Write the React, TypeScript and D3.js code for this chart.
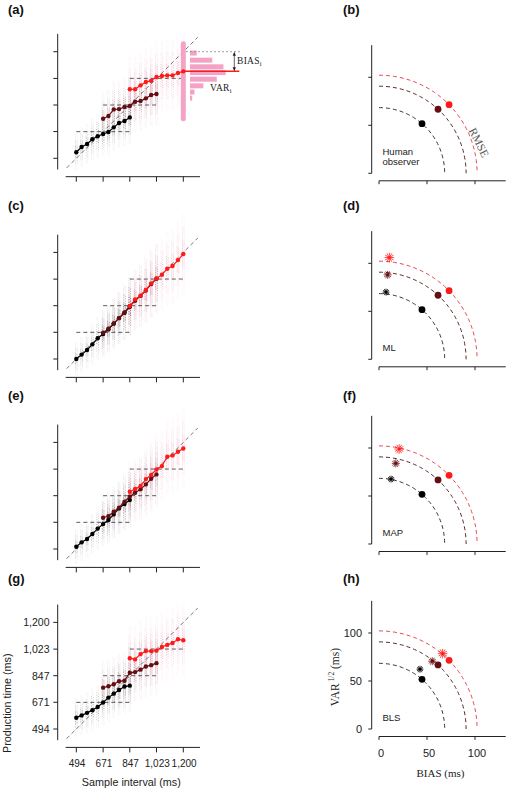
import React from "react";
import * as d3 from "d3";

// ---------- data ----------
const TS_SHORT = [494, 529, 565, 600, 635, 671, 706, 741, 776, 812, 847];
const TS_INTER = [671, 706, 741, 776, 812, 847, 882, 918, 953, 988, 1023];
const TS_LONG = [847, 882, 918, 953, 988, 1023, 1059, 1094, 1129, 1165, 1200];
const MS_TICKS = [494, 671, 847, 1023, 1200];
const PRIOR_RANGES = [[494, 847], [671, 1023], [847, 1200]];

const A_SHORT = [534, 569, 589, 620, 640, 655, 668, 699, 728, 741, 765];
const A_INTER = [756, 774, 818, 820, 834, 840, 869, 873, 891, 913, 920];
const A_LONG = [951, 951, 977, 999, 1008, 1032, 1039, 1043, 1043, 1059, 1070];

const ML_SHORT = [494, 523, 554, 591, 631, 659, 690, 728, 765, 800, 840];
const ML_INTER = [668, 695, 730, 765, 802, 843, 880, 912, 948, 990, 1025];
const ML_LONG = [845, 889, 913, 951, 995, 1028, 1052, 1092, 1110, 1149, 1189];

const MAP_SHORT = [509, 538, 560, 593, 629, 659, 686, 723, 763, 792, 818];
const MAP_INTER = [701, 712, 741, 768, 807, 840, 867, 889, 922, 959, 988];
const MAP_LONG = [873, 891, 911, 957, 984, 1021, 1043, 1105, 1114, 1138, 1160];

const G_SHORT = [569, 584, 601, 619, 640, 670, 702, 728, 752, 775, 781];
const G_INTER = [768, 777, 790, 810, 814, 867, 871, 887, 908, 917, 930];
const G_LONG = [963, 955, 990, 1010, 1010, 1013, 1037, 1051, 1064, 1088, 1082];

const WEBER = 0.075;

const HIST_BIN_MS = [1191, 1144, 1100, 1062, 1018, 974, 933, 893];
const HIST_COUNTS = [3, 10, 15, 16, 12, 6, 2, 1];
const HIST_RANGE = [740, 1270];

const HUMAN_BIAS = [44.8, 61.5, 73];
const HUMAN_VAR = [51.7, 66.7, 71.5];
const ML_BIAS = [7.3, 9, 10.8];
const ML_VAR = [70, 88, 106];
const MAP_BIAS = [12.6, 17.5, 21];
const MAP_VAR = [67.6, 84, 99];
const BLS_BIAS = [42.7, 55.5, 66.3];
const BLS_VAR = [62.3, 70.6, 78.5];
const RMS_TICKS = [0, 50, 100];

// ---------- styles ----------
const SANS = "'Liberation Sans', Arial, sans-serif";
const SERIF = "'Liberation Serif', 'Times New Roman', serif";
const DOT_COLORS = ["#000000", "#650d12", "#ff1a1a"];
const COL_COLORS = ["#111111", "#6a1020", "#e0447a"];
const ARC_COLORS = ["#333333", "#5a2a2a", "#e8484f"];
const AXIS = "#222";
const TS_SETS = [TS_SHORT, TS_INTER, TS_LONG];

const fmt = d3.format(",");

function LeftPanel({ off, series, tickLabels, hist }: any) {
  const x = d3.scaleLinear().domain([494, 1200]).range([76.3, 183.3]);
  const y = d3.scaleLinear().domain([494, 1200]).range([158.3 + off, 51.7 + off]);
  const xAxisY = 176.7 + off;
  const yAxisX = 57.7;
  const line = d3
    .line<[number, number]>()
    .x((d) => x(d[0]))
    .y((d) => y(d[1]));

  const columns: any[] = [];
  series.forEach((vals: number[], k: number) => {
    vals.forEach((m, i) => {
      const ts = TS_SETS[k][i];
      const s = WEBER * m;
      [
        [3, 0.1],
        [2, 0.16],
        [1, 0.28],
      ].forEach(([n, op], bi) => {
        [-0.8, 0.8].forEach((dx, j) => {
          columns.push(
            <line
              key={`c${k}-${i}-${bi}-${j}`}
              x1={x(ts) + dx}
              x2={x(ts) + dx}
              y1={y(m + n * s)}
              y2={y(m - n * s)}
              stroke={COL_COLORS[k]}
              strokeOpacity={op}
              strokeWidth={0.9}
              strokeDasharray="0.9 1.5"
              strokeDashoffset={j * 1.2}
            />
          );
        });
      });
    });
  });

  const histY = d3.scaleLinear().domain([0, 1]).range([0, 2.23]);

  return (
    <g>
      {columns}
      <line
        x1={x(430)}
        y1={y(430)}
        x2={x(1295)}
        y2={y(1295)}
        stroke="#555"
        strokeWidth={0.8}
        strokeDasharray="4 3"
      />
      {PRIOR_RANGES.map((r, k) => (
        <line
          key={`pm${k}`}
          x1={x(r[0])}
          x2={x(r[1])}
          y1={y((r[0] + r[1]) / 2)}
          y2={y((r[0] + r[1]) / 2)}
          stroke="#333"
          strokeWidth={0.8}
          strokeDasharray="4 3"
        />
      ))}
      {hist && (
        <g>
          <rect
            x={x(1200) - 2.5}
            y={y(HIST_RANGE[1])}
            width={5}
            height={y(HIST_RANGE[0]) - y(HIST_RANGE[1])}
            rx={2.5}
            fill="#f4a3c6"
          />
          {HIST_BIN_MS.map((b, i) => (
            <rect
              key={`h${i}`}
              x={190}
              y={y(b) - 2.5}
              width={histY(HIST_COUNTS[i])}
              height={5}
              fill="#f4a3c6"
            />
          ))}
          <line
            x1={186}
            x2={240}
            y1={y(1200)}
            y2={y(1200)}
            stroke="#888"
            strokeWidth={0.8}
            strokeDasharray="2 2"
          />
        </g>
      )}
      {series.map((vals: number[], k: number) => {
        const pts = vals.map((v, i) => [TS_SETS[k][i], v] as [number, number]);
        return (
          <g key={`s${k}`}>
            <path d={line(pts) || ""} fill="none" stroke={DOT_COLORS[k]} strokeWidth={1.2} />
            {pts.map((p, i) => (
              <circle key={i} cx={x(p[0])} cy={y(p[1])} r={2.2} fill={DOT_COLORS[k]} />
            ))}
          </g>
        );
      })}
      {hist && (
        <g>
          <line
            x1={x(1200)}
            x2={239.3}
            y1={y(series[2][10])}
            y2={y(series[2][10])}
            stroke="#ff1a1a"
            strokeWidth={1.5}
          />
          <line
            x1={234.3}
            x2={234.3}
            y1={y(1200) + 2}
            y2={y(series[2][10]) - 2}
            stroke="#222"
            strokeWidth={0.7}
          />
          <path d={`M${234.3},${y(1200)} l-1.6,4 l3.2,0 z`} fill="#222" />
          <path d={`M${234.3},${y(series[2][10])} l-1.6,-4 l3.2,0 z`} fill="#222" />
          <text x={237} y={y(1200) + 12} fontFamily={SERIF} fontSize={9.5} fill="#222" letterSpacing={0.3}>
            BIAS
            <tspan fontSize={6.5} dy={2.5}>i</tspan>
          </text>
          <text x={210} y={y(series[2][10]) + 19.5} fontFamily={SERIF} fontSize={9.5} fill="#222" letterSpacing={0.3}>
            VAR
            <tspan fontSize={6.5} dy={2.5}>i</tspan>
          </text>
        </g>
      )}
      <line x1={yAxisX} x2={yAxisX} y1={y(1318)} y2={y(420)} stroke={AXIS} strokeWidth={1} />
      <line x1={x(424)} x2={x(1310)} y1={xAxisY} y2={xAxisY} stroke={AXIS} strokeWidth={1} />
      {MS_TICKS.map((t) => (
        <g key={`t${t}`}>
          <line x1={yAxisX - 4.4} x2={yAxisX} y1={y(t)} y2={y(t)} stroke={AXIS} strokeWidth={1} />
          <line x1={x(t)} x2={x(t)} y1={xAxisY} y2={xAxisY + 5} stroke={AXIS} strokeWidth={1} />
          {tickLabels && (
            <>
              <text x={49.5} y={y(t) + 4} textAnchor="end" fontFamily={SANS} fontSize={10.5} fill="#222">
                {fmt(t)}
              </text>
              <text x={x(t) + 0.8} y={xAxisY + 19.3} textAnchor="middle" fontFamily={SANS} fontSize={10} fill="#222">
                {fmt(t)}
              </text>
            </>
          )}
        </g>
      ))}
      {tickLabels && (
        <>
          <text
            transform={`translate(11,${y(671) + 1}) rotate(-90)`}
            textAnchor="middle"
            fontFamily={SANS}
            fontSize={10.8}
            fill="#222"
          >
            Production time (ms)
          </text>
          <text x={131.3} y={xAxisY + 38.5} textAnchor="middle" fontFamily={SANS} fontSize={10.8} fill="#222">
            Sample interval (ms)
          </text>
        </>
      )}
    </g>
  );
}

function Star({ cx, cy, size, color }: any) {
  const spokes = d3.range(0, 180, 30);
  return (
    <g>
      {spokes.map((a) => {
        const r = (a * Math.PI) / 180;
        const dx = Math.cos(r) * size;
        const dy = Math.sin(r) * size;
        return (
          <line
            key={a}
            x1={cx - dx}
            x2={cx + dx}
            y1={cy - dy}
            y2={cy + dy}
            stroke={color}
            strokeWidth={0.8}
          />
        );
      })}
      <circle cx={cx} cy={cy} r={1.3} fill={color} />
    </g>
  );
}

function RightPanel({ y0, bias, vars, label, tickLabels, rmse }: any) {
  const x = d3.scaleLinear().domain([0, 100]).range([379, 475]);
  const y = d3.scaleLinear().domain([0, 100]).range([y0, y0 - 96]);
  const yAxisX = 371.7;
  const xAxisY = y0 + 7.5;
  const line = d3
    .line<[number, number]>()
    .x((d) => x(d[0]))
    .y((d) => y(d[1]));
  const angles = d3.range(0, 90.5, 1.5);

  return (
    <g>
      {HUMAN_BIAS.map((b, k) => {
        const r = Math.hypot(b, HUMAN_VAR[k]);
        const pts = angles.map(
          (a) => [r * Math.sin((a * Math.PI) / 180), r * Math.cos((a * Math.PI) / 180)] as [number, number]
        );
        return (
          <path
            key={`arc${k}`}
            d={line(pts) || ""}
            fill="none"
            stroke={ARC_COLORS[k]}
            strokeWidth={1}
            strokeDasharray="4 3"
          />
        );
      })}
      {bias &&
        bias.map((b: number, k: number) => (
          <Star key={`st${k}`} cx={x(b)} cy={y(vars[k])} size={[3.5, 4, 4.8][k]} color={DOT_COLORS[k]} />
        ))}
      {HUMAN_BIAS.map((b, k) => (
        <circle key={`d${k}`} cx={x(b)} cy={y(HUMAN_VAR[k])} r={3.4} fill={DOT_COLORS[k]} />
      ))}
      {rmse && (
        <text
          transform={`translate(479,142.5) rotate(64)`}
          textAnchor="middle"
          dominantBaseline="central"
          fontFamily={SERIF}
          fontSize={11.5}
          fill="#555"
        >
          RMSE
        </text>
      )}
      {label.map((l: string, i: number) => (
        <text
          key={l}
          x={382.5}
          y={y0 - 8 - (label.length - 1 - i) * 10}
          fontFamily={SANS}
          fontSize={9.5}
          fill="#222"
        >
          {l}
        </text>
      ))}
      <line x1={yAxisX} x2={yAxisX} y1={y(133.5)} y2={y(0)} stroke={AXIS} strokeWidth={1} />
      <line x1={x(0)} x2={x(132)} y1={xAxisY} y2={xAxisY} stroke={AXIS} strokeWidth={1} />
      {RMS_TICKS.map((t) => (
        <g key={`rt${t}`}>
          <line x1={yAxisX - 3.4} x2={yAxisX} y1={y(t)} y2={y(t)} stroke={AXIS} strokeWidth={1} />
          <line x1={x(t)} x2={x(t)} y1={xAxisY} y2={xAxisY + 3.4} stroke={AXIS} strokeWidth={1} />
          {tickLabels && (
            <>
              <text x={362} y={y(t) + 4} textAnchor="end" fontFamily={SANS} fontSize={11} fill="#222">
                {t}
              </text>
              <text x={x(t) + 2} y={xAxisY + 20.3} textAnchor="middle" fontFamily={SANS} fontSize={11} fill="#222">
                {t}
              </text>
            </>
          )}
        </g>
      ))}
      {tickLabels && (
        <>
          <text x={440.5} y={xAxisY + 40.3} textAnchor="middle" fontFamily={SERIF} fontSize={11} fill="#222">
            BIAS (ms)
          </text>
          <text
            transform={`translate(338.5,${y0 - 52}) rotate(-90)`}
            textAnchor="middle"
            fontFamily={SERIF}
            fontSize={11.5}
            fill="#222"
          >
            VAR
            <tspan fontSize={7.5} dy={-5}>
              {" 1/2"}
            </tspan>
            <tspan dy={5}>{" (ms)"}</tspan>
          </text>
        </>
      )}
    </g>
  );
}

const LEFT_OFFSETS = [0, 200.7, 390.7, 570.7];
const RIGHT_Y0 = [173.3, 359.3, 544, 729];
const LEFT_LETTERS = ["(a)", "(c)", "(e)", "(g)"];
const RIGHT_LETTERS = ["(b)", "(d)", "(f)", "(h)"];
const LETTER_Y = [13.5, 209.5, 400, 583];

export default function App() {
  const leftSeries = [
    [A_SHORT, A_INTER, A_LONG],
    [ML_SHORT, ML_INTER, ML_LONG],
    [MAP_SHORT, MAP_INTER, MAP_LONG],
    [G_SHORT, G_INTER, G_LONG],
  ];
  const rightStars = [
    [null, null],
    [ML_BIAS, ML_VAR],
    [MAP_BIAS, MAP_VAR],
    [BLS_BIAS, BLS_VAR],
  ];
  const rightLabels = [["Human", "observer"], ["ML"], ["MAP"], ["BLS"]];
  return (
    <svg
      width={510}
      height={791}
      style={{ position: "absolute", left: 0, top: 0, background: "#fff" }}
    >
      <rect width={510} height={791} fill="#fff" />
      {leftSeries.map((s, i) => (
        <LeftPanel key={`L${i}`} off={LEFT_OFFSETS[i]} series={s} tickLabels={i === 3} hist={i === 0} />
      ))}
      {rightStars.map((s, i) => (
        <RightPanel
          key={`R${i}`}
          y0={RIGHT_Y0[i]}
          bias={s[0]}
          vars={s[1]}
          label={rightLabels[i]}
          tickLabels={i === 3}
          rmse={i === 0}
        />
      ))}
      {LEFT_LETTERS.map((l, i) => (
        <text key={l} x={8} y={LETTER_Y[i]} fontFamily={SANS} fontWeight="bold" fontSize={13} fill="#111">
          {l}
        </text>
      ))}
      {RIGHT_LETTERS.map((l, i) => (
        <text key={l} x={343} y={LETTER_Y[i]} fontFamily={SANS} fontWeight="bold" fontSize={13} fill="#111">
          {l}
        </text>
      ))}
    </svg>
  );
}
